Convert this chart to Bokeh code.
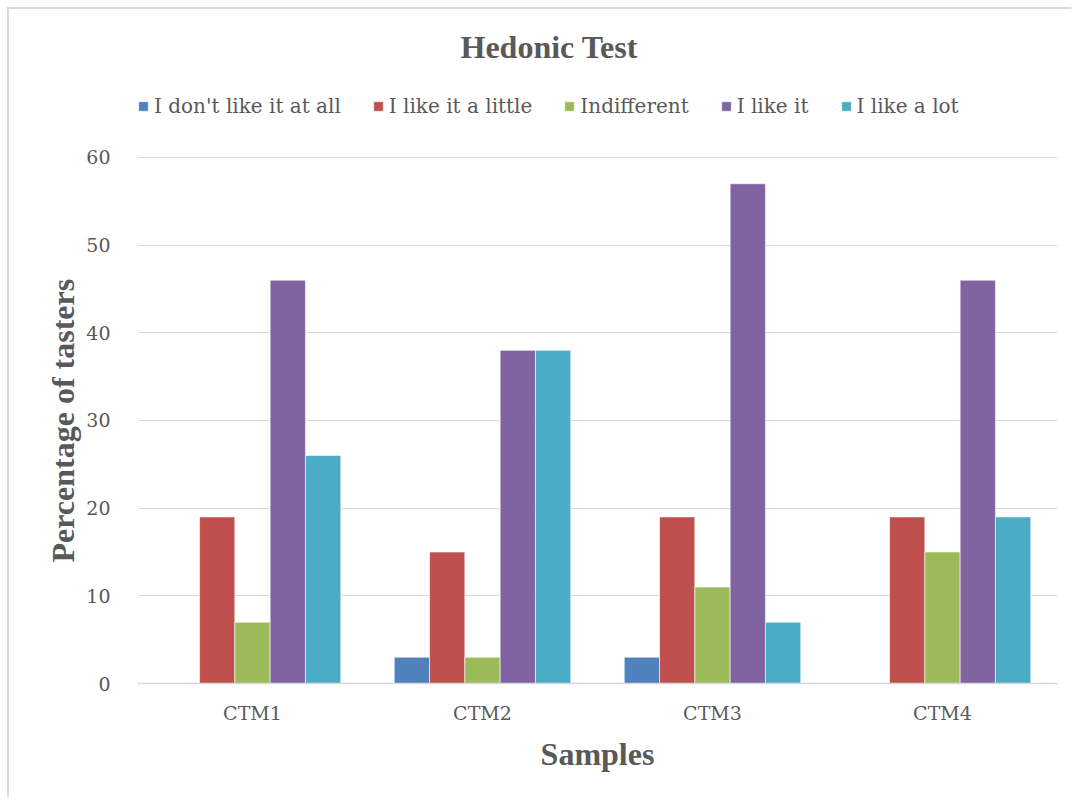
from bokeh.plotting import figure
from bokeh.models import FactorRange, Range1d, Legend, LegendItem, ColumnDataSource, FixedTicker, Title
from bokeh.transform import dodge
from bokeh.embed import file_html
from bokeh.resources import INLINE

samples = ["CTM1", "CTM2", "CTM3", "CTM4"]
series_names = ["I don't like it at all", "I like it a little", "Indifferent", "I like it", "I like a lot"]
dont_like = [0, 3, 3, 0]
like_little = [19, 15, 19, 19]
indifferent = [7, 3, 11, 15]
like_it = [46, 38, 57, 46]
like_lot = [26, 38, 7, 19]
y_ticks = [0, 10, 20, 30, 40, 50, 60]
colors = ["#4F81BD", "#C0504D", "#9BBB59", "#8064A2", "#4BACC6"]

FONT = "DejaVu Serif"
BFONT = "Liberation Serif"
TXT = "#595959"

src = ColumnDataSource(dict(samples=samples, s0=dont_like, s1=like_little, s2=indifferent, s3=like_it, s4=like_lot))

W, H = 1064, 790
p = figure(width=W, height=H, x_range=FactorRange(*samples, range_padding=0), y_range=Range1d(0, 69.35),
           output_backend="svg", toolbar_location=None,
           min_border_left=128, min_border_right=16, min_border_top=66, min_border_bottom=116)
p.styles = {"margin-left": "7px", "margin-top": "7px",
            "border-left": "2px solid #d9d9d9", "border-top": "2px solid #d9d9d9"}
p.outline_line_color = None

bw = 0.1535
renderers = []
for i, key in enumerate(["s0", "s1", "s2", "s3", "s4"]):
    r = p.vbar(x=dodge("samples", (i - 2) * bw, range=p.x_range), top=key, width=bw, source=src,
               fill_color=colors[i], line_color="white", line_width=0.6)
    renderers.append(r)

# axes
p.yaxis.ticker = FixedTicker(ticks=y_ticks)
for ax in (p.xaxis[0], p.yaxis[0]):
    ax.major_tick_line_color = None
    ax.minor_tick_line_color = None
    ax.major_tick_out = 0
    ax.major_tick_in = 0
    ax.major_label_text_font = FONT
    ax.major_label_text_font_size = "19px"
    ax.major_label_text_color = TXT
    ax.axis_label_text_font = BFONT
    ax.axis_label_text_font_style = "bold"
    ax.axis_label_text_font_size = "32px"
    ax.axis_label_text_color = TXT
p.yaxis.axis_line_color = None
p.yaxis.major_label_standoff = 27
p.xaxis.axis_line_color = "#d9d9d9"
p.xaxis.axis_line_width = 1.5
p.xaxis.major_label_standoff = 18
p.xaxis.axis_label = "Samples"
p.xaxis.axis_label_standoff = 9

ytitle = Title(text="Percentage of tasters", align="left", offset=121, standoff=6,
               text_font=BFONT, text_font_size="32px", text_font_style="bold", text_color=TXT)
p.add_layout(ytitle, "left")

p.xgrid.grid_line_color = None
p.ygrid.grid_line_color = "#d9d9d9"
p.ygrid.grid_line_width = 1

p.title.text = "Hedonic Test"
p.title.align = "left"
p.title.offset = 323
p.title.text_font = BFONT
p.title.text_font_size = "32px"
p.title.text_font_style = "bold"
p.title.text_color = TXT
p.title.standoff = 22

legend = Legend(items=[LegendItem(label=n, renderers=[r]) for n, r in zip(series_names, renderers)],
                orientation="horizontal", location=(0, 565), border_line_color=None,
                background_fill_alpha=0, label_text_font=FONT, label_text_font_size="20px",
                label_text_color=TXT, glyph_width=12, glyph_height=12, spacing=31, label_standoff=5,
                padding=0, margin=0)
p.add_layout(legend, "center")

open("out.html", "w").write(file_html(p, INLINE))
